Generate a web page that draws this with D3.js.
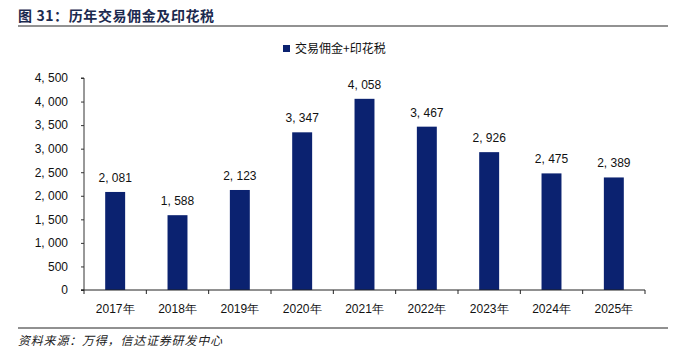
<!DOCTYPE html>
<html><head><meta charset="utf-8">
<script src="https://cdn.jsdelivr.net/npm/d3@7"></script>
<style>body{margin:0;background:#fff}</style>
</head><body>
<svg id="c" width="682" height="356"></svg>
<script>
const categories = ["2017年","2018年","2019年","2020年","2021年","2022年","2023年","2024年","2025年"];
const values = [2081,1588,2123,3347,4058,3467,2926,2475,2389];
const yTicks = [0,500,1000,1500,2000,2500,3000,3500,4000,4500];
const seriesName = "交易佣金+印花税";
const titleText = "图 31：历年交易佣金及印花税";
const sourceText = "资料来源：万得，信达证券研发中心";

const svg = d3.select("#c");
const barColor = "#0b2270";
const numFont = "'Liberation Sans', Arial, sans-serif";
const cjkFont = "'Noto Sans CJK SC', sans-serif";
const fmt = v => d3.format(",")(v).replace(/,/g, ", ");

// title
svg.append("text").attr("x", 18).attr("y", 21).text(titleText)
  .attr("font-family", cjkFont).attr("font-weight", "bold").attr("font-size", 14)
  .attr("letter-spacing", 0.6).attr("fill", "#1c2a4f");
svg.append("line").attr("x1", 18).attr("x2", 668).attr("y1", 26).attr("y2", 26)
  .attr("stroke", "#6e6e6e").attr("stroke-width", 1.5);

// footer
svg.append("line").attr("x1", 18).attr("x2", 668).attr("y1", 328).attr("y2", 328)
  .attr("stroke", "#222").attr("stroke-width", 1);
svg.append("text").attr("x", 18).attr("y", 345).text(sourceText)
  .attr("font-family", cjkFont).attr("font-style", "italic").attr("font-size", 12)
  .attr("letter-spacing", 0.8).attr("fill", "#222");

// scales
const x = d3.scaleBand().domain(categories).range([84, 645]).paddingInner(0.68).paddingOuter(0.34);
const y = d3.scaleLinear().domain([0, 4500]).range([290, 78]);

// bars
svg.append("g").selectAll("rect").data(values).join("rect")
  .attr("x", (d, i) => x(categories[i]))
  .attr("y", d => y(d))
  .attr("width", x.bandwidth())
  .attr("height", d => y(0) - y(d))
  .attr("fill", barColor);

// value labels
svg.append("g").selectAll("text").data(values).join("text")
  .attr("x", (d, i) => x(categories[i]) + x.bandwidth() / 2)
  .attr("y", d => y(d) - 10)
  .attr("text-anchor", "middle")
  .attr("font-family", numFont).attr("font-size", 12).attr("fill", "#111")
  .text(d => fmt(d));

// y axis
const yAxis = d3.axisLeft(y).tickValues(yTicks).tickSize(3).tickFormat(fmt);
const gy = svg.append("g").attr("transform", "translate(84,0)").call(yAxis);
gy.select(".domain").attr("stroke", "#333").attr("d", "M-3,78H0V290H-3");
gy.selectAll(".tick line").attr("stroke", "#333");
gy.selectAll(".tick text").attr("font-family", numFont).attr("font-size", 12).attr("fill", "#111").attr("x", -16);

// x axis
const gx = svg.append("g").attr("transform", "translate(0,290)");
gx.append("line").attr("x1", 81).attr("x2", 645).attr("y1", 0).attr("y2", 0).attr("stroke", "#222");
const step = x.step();
const bounds = d3.range(categories.length + 1).map(i => 84 + i * step);
gx.selectAll("line.t").data(bounds).join("line").attr("class", "t")
  .attr("x1", d => d).attr("x2", d => d).attr("y1", 0).attr("y2", 4).attr("stroke", "#222");
gx.selectAll("text").data(categories).join("text")
  .attr("x", d => x(d) + x.bandwidth() / 2).attr("y", 23)
  .attr("text-anchor", "middle")
  .attr("font-family", numFont).attr("font-size", 12).attr("fill", "#111")
  .text(d => d);

// legend
const lg = svg.append("g").attr("transform", "translate(283,45)");
lg.append("rect").attr("width", 7).attr("height", 7).attr("fill", barColor);
lg.append("text").attr("x", 12).attr("y", 7.5).text(seriesName)
  .attr("font-family", cjkFont).attr("font-size", 12).attr("fill", "#111");
</script>
</body></html>
